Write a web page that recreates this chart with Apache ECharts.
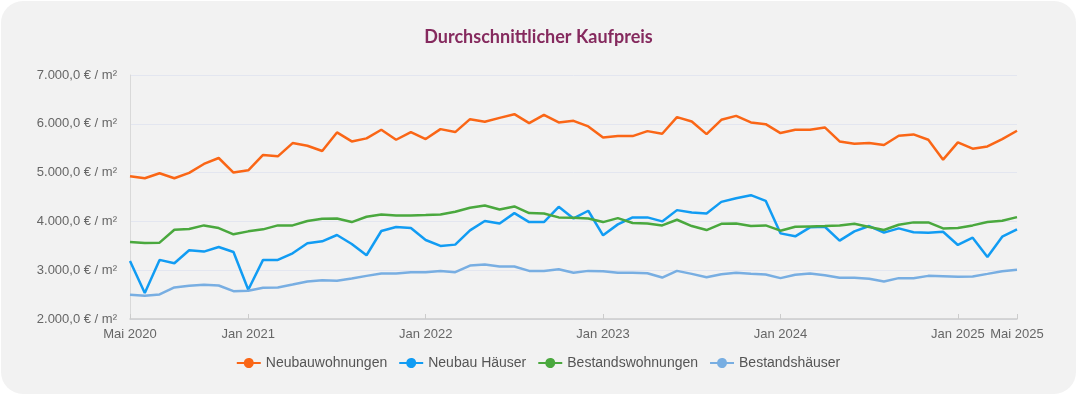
<!DOCTYPE html>
<html>
<head>
<meta charset="utf-8">
<script src="https://cdn.jsdelivr.net/npm/echarts@6/dist/echarts.min.js"></script>
<style>
    html, body { margin: 0; padding: 0; background: #ffffff; }
    #chart {
        width: 1075px;
        height: 393px;
        margin: 1px 0 0 1px;
        background: #f2f2f2;
        border-radius: 22px;
        overflow: hidden;
    }
</style>
</head>
<body>
<div id="chart"></div>
<script>
// Monate Mai 2020 - Mai 2025
var monthNames = ['Jan', 'Feb', 'Mär', 'Apr', 'Mai', 'Jun', 'Jul', 'Aug', 'Sep', 'Okt', 'Nov', 'Dez'];
var categories = [];
for (var y = 2020; y <= 2025; y++) {
    for (var m = 0; m < 12; m++) {
        if (y === 2020 && m < 4) continue;
        if (y === 2025 && m > 4) continue;
        categories.push(monthNames[m] + ' ' + y);
    }
}

var yTicks = [2000, 3000, 4000, 5000, 6000, 7000];

// Neubauwohnungen
var neubauWohnungen = [
    4925, 4884, 4986, 4884, 4993, 5177, 5299, 5000, 5048, 5361,
    5333, 5605, 5551, 5442, 5823, 5639, 5701, 5878, 5673, 5830,
    5687, 5891, 5830, 6095, 6041, 6122, 6197, 6014, 6184, 6027,
    6061, 5946, 5721, 5748, 5748, 5850, 5796, 6136, 6048, 5789,
    6082, 6163, 6027, 5993, 5810, 5878, 5878, 5925, 5639, 5592,
    5605, 5565, 5755, 5782, 5673, 5265, 5619, 5490, 5537, 5687,
    5857
];

// Neubau Häuser
var neubauHaeuser = [
    3190, 2531, 3211, 3143, 3408, 3381, 3476, 3374, 2599, 3211,
    3211, 3347, 3551, 3592, 3721, 3537, 3306, 3803, 3884, 3864,
    3619, 3497, 3524, 3816, 4007, 3959, 4170, 3986, 3986, 4299,
    4061, 4218, 3714, 3939, 4082, 4082, 4000, 4231, 4184, 4163,
    4400, 4476, 4537, 4422, 3755, 3694, 3878, 3891, 3605, 3796,
    3905, 3769, 3857, 3776, 3769, 3789, 3517, 3667, 3272, 3687,
    3837
];

// Bestandswohnungen
var bestandWohnungen = [
    3578, 3558, 3565, 3830, 3844, 3918, 3864, 3735, 3796, 3837,
    3918, 3918, 4007, 4054, 4061, 3986, 4095, 4143, 4122, 4122,
    4129, 4143, 4197, 4279, 4327, 4245, 4306, 4170, 4163, 4082,
    4075, 4061, 3986, 4068, 3966, 3959, 3918, 4034, 3905, 3823,
    3950, 3959, 3905, 3918, 3810, 3891, 3898, 3905, 3918, 3952,
    3884, 3823, 3932, 3980, 3980, 3857, 3864, 3918, 3986, 4014,
    4088
];

// Bestandshäuser
var bestandHaeuser = [
    2497, 2476, 2503, 2646, 2680, 2701, 2687, 2571, 2578, 2640,
    2646, 2707, 2769, 2796, 2782, 2830, 2884, 2932, 2932, 2959,
    2959, 2986, 2959, 3095, 3116, 3075, 3075, 2986, 2986, 3020,
    2946, 2986, 2980, 2946, 2946, 2939, 2850, 2986, 2925, 2857,
    2918, 2946, 2925, 2912, 2837, 2905, 2932, 2898, 2844, 2844,
    2823, 2769, 2837, 2837, 2884, 2878, 2864, 2871, 2925, 2980,
    3007
];

var seriesNames = ['Neubauwohnungen', 'Neubau Häuser', 'Bestandswohnungen', 'Bestandshäuser'];
var seriesColors = ['#fa6616', '#119cf3', '#4aa83e', '#78aee2'];
var seriesData = [neubauWohnungen, neubauHaeuser, bestandWohnungen, bestandHaeuser];

// Linie mit Punkt fuer die Legende
var legendIcon = 'path://M0,4H7.1A5,5 0 0 1 16.9,4H24V6H16.9A5,5 0 0 1 7.1,6H0Z';

function showLabel(index, value) {
    return index === 0 || index === categories.length - 1 || value.indexOf('Jan') === 0;
}

function formatEuro(v) {
    var s = String(Math.round(v));
    s = s.replace(/\B(?=(\d{3})+(?!\d))/g, '.');
    return s + ',0 € / m²';
}

var chart = echarts.init(document.getElementById('chart'));

var series = [];
for (var i = 0; i < seriesNames.length; i++) {
    series.push({
        name: seriesNames[i],
        type: 'line',
        symbol: 'circle',
        showSymbol: false,
        smooth: false,
        color: seriesColors[i],
        lineStyle: {
            width: 2.5,
            color: seriesColors[i]
        },
        data: seriesData[i]
    });
}

var option = {
    backgroundColor: 'transparent',
    animation: false,
    title: {
        text: 'Durchschnittlicher Kaufpreis',
        left: 'center',
        top: 22,
        textStyle: {
            fontFamily: 'Lato',
            fontWeight: 'bold',
            fontSize: 18,
            color: '#852a5e'
        }
    },
    legend: {
        bottom: 19,
        left: 'center',
        itemWidth: 24,
        itemHeight: 10,
        itemGap: 12,
        data: seriesNames.map(function (n) {
            return { name: n, icon: legendIcon };
        }),
        textStyle: {
            fontFamily: 'Liberation Sans',
            fontSize: 14,
            color: '#555555'
        }
    },
    grid: {
        left: 129,
        right: 59,
        top: 74,
        bottom: 75,
        containLabel: false
    },
    xAxis: {
        type: 'category',
        boundaryGap: false,
        data: categories,
        axisLine: {
            lineStyle: { color: '#cccccc', width: 1.5 }
        },
        axisTick: {
            inside: true,
            length: 5,
            interval: function (index, value) { return showLabel(index, value); },
            lineStyle: { color: '#cccccc' }
        },
        axisLabel: {
            interval: function (index, value) { return showLabel(index, value); },
            fontFamily: 'Liberation Sans',
            fontSize: 13,
            color: '#666666',
            margin: 9
        },
        splitLine: { show: false }
    },
    yAxis: {
        type: 'value',
        min: yTicks[0],
        max: yTicks[yTicks.length - 1],
        interval: 1000,
        axisLine: {
            show: true,
            lineStyle: { color: '#d9d9d9', width: 1 }
        },
        axisTick: { show: false },
        axisLabel: {
            fontFamily: 'Liberation Sans',
            fontSize: 13,
            color: '#666666',
            margin: 13,
            formatter: formatEuro
        },
        splitLine: {
            lineStyle: { color: '#e3e6f0', width: 1 }
        }
    },
    series: series
};

chart.setOption(option);
</script>
</body>
</html>
